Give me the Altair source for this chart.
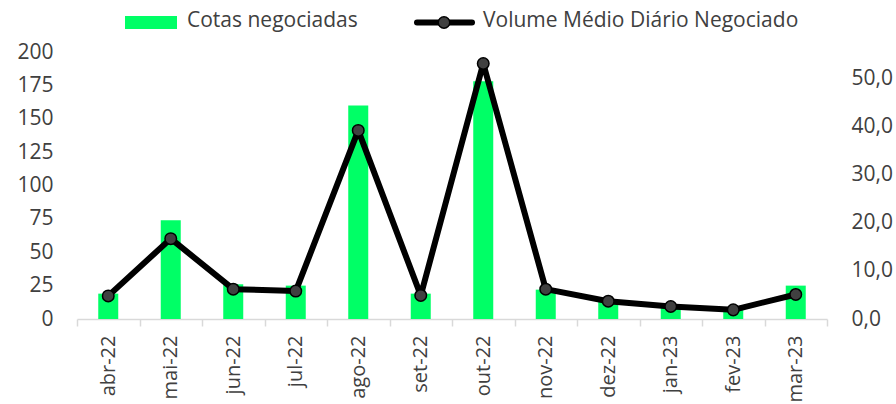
import altair as alt
import pandas as pd

months = ["abr-22", "mai-22", "jun-22", "jul-22", "ago-22", "set-22",
          "out-22", "nov-22", "dez-22", "jan-23", "fev-23", "mar-23"]
cotas = [19, 74, 26, 25, 160, 19, 178, 22, 14, 10, 7, 25]
volume = [4.8, 16.7, 6.2, 5.8, 39.2, 4.9, 53.1, 6.2, 3.7, 2.6, 1.9, 5.1]
left_ticks = [0, 25, 50, 75, 100, 125, 150, 175, 200]
right_ticks = [0, 10, 20, 30, 40, 50]
legend_labels = ["Cotas negociadas", "Volume Médio Diário Negociado"]

df = pd.DataFrame({"mes": months, "cotas": cotas, "volume": volume})

FONT = "Open Sans"
TXT = "#404040"
GREEN = "#00FF66"
FS = 21

x = alt.X("mes:N", sort=months, title=None,
          scale=alt.Scale(paddingInner=0, paddingOuter=0),
          axis=alt.Axis(labelAngle=270, labelFont=FONT, labelFontSize=20,
                        labelColor=TXT, domainColor="#d9d9d9", domainWidth=1.5,
                        tickColor="#d9d9d9", tickWidth=1.5, tickSize=7,
                        tickBand="extent", labelPadding=9))

bars = alt.Chart(df).mark_bar(color=GREEN, width=alt.RelativeBandSize(0.32)).encode(
    x=x,
    y=alt.Y("cotas:Q", title=None,
            scale=alt.Scale(domain=[0, 200], nice=False),
            axis=alt.Axis(values=left_ticks, domain=False, ticks=False, tickSize=0,
                          grid=False, labelFont=FONT, labelFontSize=FS,
                          labelColor=TXT, labelPadding=24)),
)

yv = alt.Y("volume:Q", title=None,
           scale=alt.Scale(domain=[0, 55.5], nice=False),
           axis=alt.Axis(orient="right", values=right_ticks, domain=False, ticks=False,
                         tickSize=0, grid=False, labelFont=FONT, labelFontSize=FS,
                         labelColor=TXT, labelPadding=24,
                         labelExpr="replace(format(datum.value, '.1f'), '.', ',')"))

line = alt.Chart(df).mark_line(color="black", strokeWidth=6, strokeJoin="round").encode(x=x, y=yv)
points = alt.Chart(df).mark_circle(size=133, color="#404040", stroke="black",
                                   strokeWidth=1.5, opacity=1).encode(x=x, y=yv)

line_layer = alt.layer(line, points)

# legend
leg1_df = pd.DataFrame({"t": [legend_labels[0]]})
leg2_df = pd.DataFrame({"t": [legend_labels[1]]})
leg_rect = alt.Chart(leg1_df).mark_rect(color=GREEN).encode(
    x=alt.value(48), x2=alt.value(100), y=alt.value(-36), y2=alt.value(-23))
leg_text1 = alt.Chart(leg1_df).mark_text(align="left", baseline="middle", font=FONT,
                                         fontSize=FS, color=TXT).encode(
    x=alt.value(110), y=alt.value(-31), text="t:N")
leg_rule = alt.Chart(leg2_df).mark_rule(color="black", strokeWidth=6, strokeCap="round").encode(
    x=alt.value(340), x2=alt.value(395), y=alt.value(-29.5))
leg_pt = alt.Chart(leg2_df).mark_circle(size=133, color="#404040", stroke="black",
                                        strokeWidth=1.5, opacity=1).encode(
    x=alt.value(367), y=alt.value(-29.5))
leg_text2 = alt.Chart(leg2_df).mark_text(align="left", baseline="middle", font=FONT,
                                         fontSize=FS, color=TXT).encode(
    x=alt.value(406), y=alt.value(-31), text="t:N")

chart = alt.layer(
    bars, line_layer, leg_rect, leg_text1, leg_rule, leg_pt, leg_text2
).resolve_scale(y="independent").properties(
    width=750, height=267,
    padding={"left": 77, "top": 52, "right": 69, "bottom": 85},
    autosize=alt.AutoSizeParams(type="none"),
    background="white",
).configure_view(stroke=None)

chart.save("out.html", embed_options={"renderer": "svg", "actions": False})
